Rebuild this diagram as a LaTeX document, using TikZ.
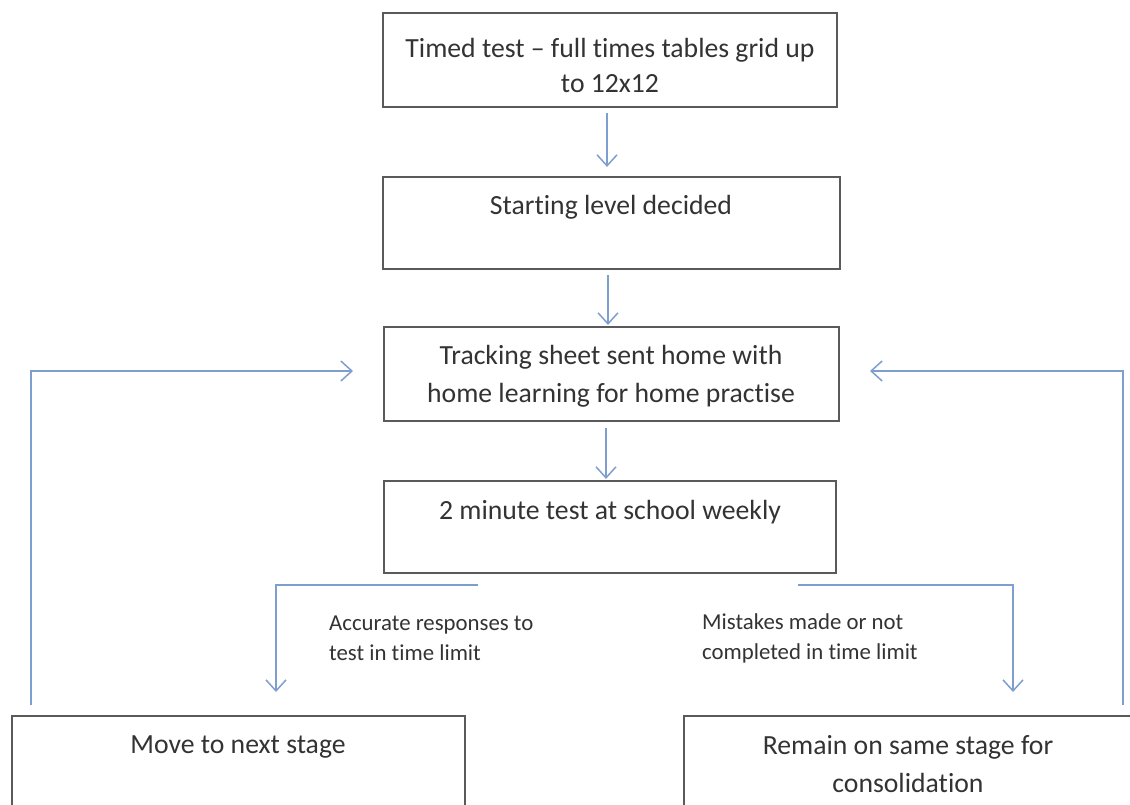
\documentclass[tikz,border=0pt]{standalone}
\usepackage{fontspec}
\setmainfont{Carlito}[Ligatures=NoCommon]
\usetikzlibrary{arrows.meta}
\definecolor{boxgray}{HTML}{5A5A5A}
\definecolor{arrblue}{HTML}{7F9ED0}
\definecolor{txtgray}{HTML}{333333}
\begin{document}
\begin{tikzpicture}[x=1pt,y=-1pt,
  stepbox/.style={draw=boxgray, line width=2.2pt, inner sep=0pt},
  boxtext/.style={text=txtgray, font=\fontsize{27.7}{38}\selectfont, align=center, inner sep=0pt},
  lbltext/.style={text=txtgray, font=\fontsize{22.8}{30}\selectfont, align=left, anchor=west, inner sep=0pt},
  flow/.style={draw=arrblue, line width=1.5pt, -{Straight Barb[length=11pt,width=20pt,line width=1.5pt]}},
]
\useasboundingbox (0,0) rectangle (1130,804);
\clip (0,0) rectangle (1130,804);
\fill[white] (0,0) rectangle (1130,804);

% boxes
\node[stepbox, minimum width=454pt, minimum height=94pt] (b1) at (610,60) {};
\node[stepbox, minimum width=457pt, minimum height=92pt] (b2) at (611.5,223) {};
\node[stepbox, minimum width=455pt, minimum height=94pt] (b3) at (611.5,374) {};
\node[stepbox, minimum width=452pt, minimum height=92pt] (b4) at (610,527) {};
\node[stepbox, minimum width=453pt, minimum height=114pt] (b5) at (238.5,773) {};
\node[stepbox, minimum width=450pt, minimum height=114pt] (b6) at (909,773) {};

% box texts
\node[boxtext, font=\fontsize{27.7}{35}\selectfont] (t1) at (610,65) {Timed test – full times tables grid up\\to 12x12};
\node[boxtext] (t2) at (611,207) {Starting level decided};
\node[boxtext] (t3) at (611,376) {Tracking sheet sent home with\\home learning for home practise};
\node[boxtext] (t4) at (610,512) {2 minute test at school weekly};
\node[boxtext] (t5) at (238,747) {Move to next stage};
\node[boxtext] (t6) at (908,764.5) {Remain on same stage for\\consolidation};

% labels
\node[lbltext] (l1) at (329,638) {Accurate responses to\\test in time limit};
\node[lbltext] (l2) at (702,638) {Mistakes made or not\\completed in time limit};

% vertical arrows
\draw[flow] ([xshift=-3pt,yshift=-5pt]b1.south) -- ([xshift=-4.5pt,yshift=9pt]b2.north);
\draw[flow] ([xshift=-3.5pt,yshift=-5pt]b2.south) -- ([xshift=-3.5pt,yshift=1pt]b3.north);
\draw[flow] ([xshift=-5.5pt,yshift=-6pt]b3.south) -- ([xshift=-4pt,yshift=1pt]b4.north);

% branches
\coordinate (ls) at (478,585);
\coordinate (le) at (276,692);
\coordinate (rs) at (798,585);
\coordinate (re) at (1013,692);
\draw[flow] (ls) -| (le);
\draw[flow] (rs) -| (re);

% loops
\coordinate (lb) at (31,705);
\coordinate (lt) at (353,371);
\coordinate (rb) at (1123,705);
\coordinate (rt) at (870,371);
\draw[flow] (lb) |- (lt);
\draw[flow] (rb) |- (rt);
\end{tikzpicture}
\end{document}
